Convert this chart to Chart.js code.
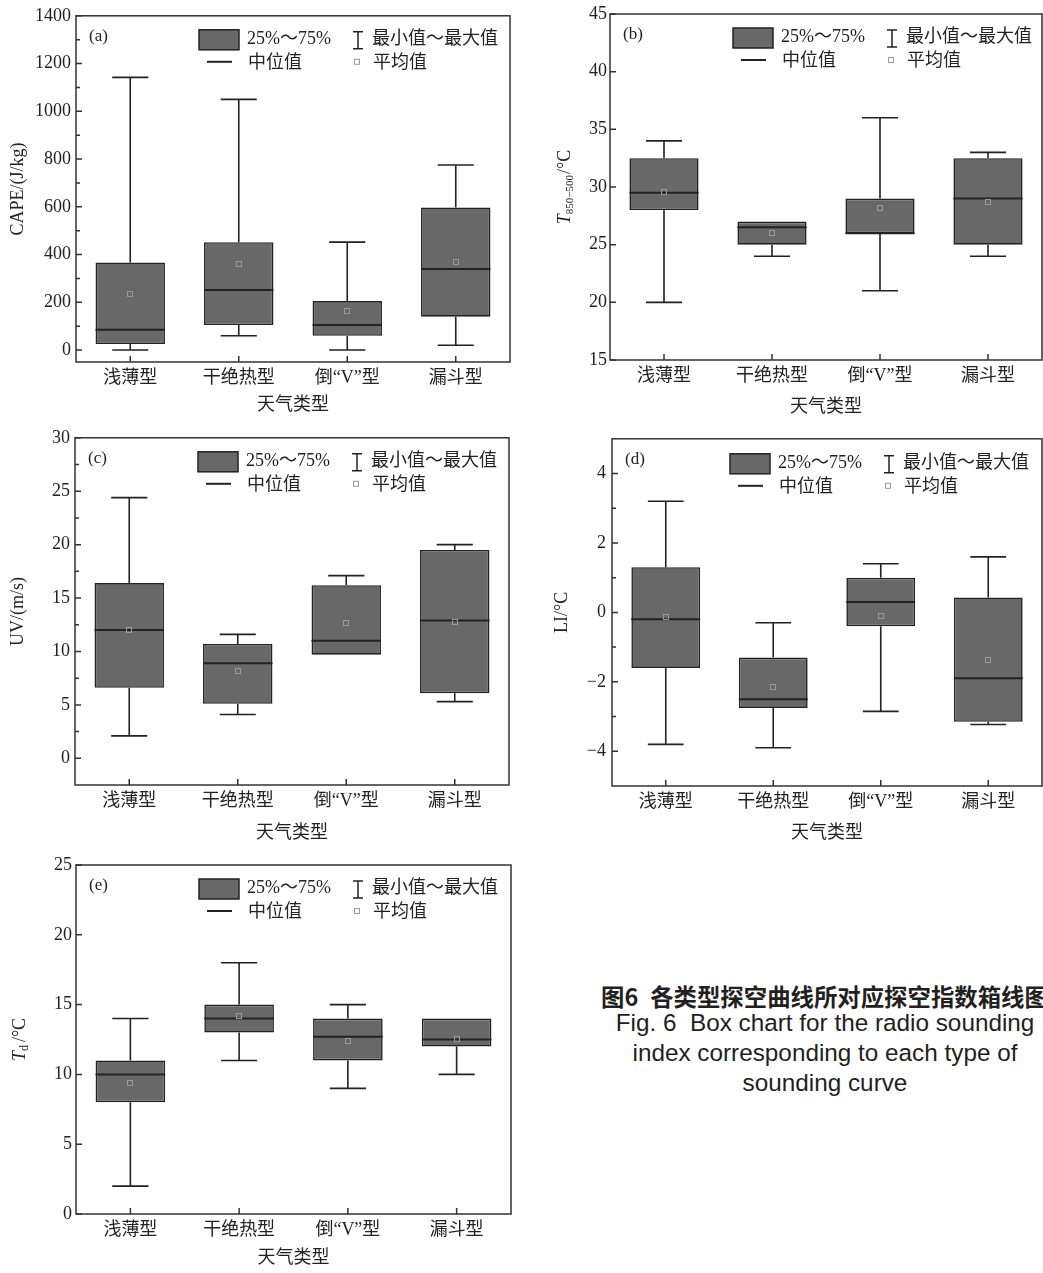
<!DOCTYPE html>
<html>
<head>
<meta charset="utf-8">
<script src="https://cdn.jsdelivr.net/npm/chart.js@4.4.1/dist/chart.umd.min.js"></script>
<style>
  body { margin: 0; background: #fff; width: 1043px; height: 1273px; position: relative; overflow: hidden; }
  canvas { position: absolute; }
  .cap-cn { position: absolute; left: 601px; top: 979px; font: bold 23.4px "Noto Sans CJK SC", sans-serif; color: #231f20; white-space: nowrap; }
  .cap-en { position: absolute; left: 575px; width: 500px; top: 1008px; text-align: center; font: 24.3px "Liberation Sans", Arial, sans-serif; line-height: 30px; color: #231f20; }
</style>
</head>
<body>
<canvas id="ca" width="520" height="420" style="left:0;top:0"></canvas>
<canvas id="cb" width="513" height="422" style="left:530px;top:0"></canvas>
<canvas id="cc" width="520" height="426" style="left:0;top:422px"></canvas>
<canvas id="cd" width="513" height="426" style="left:530px;top:422px"></canvas>
<canvas id="ce" width="520" height="423" style="left:0;top:850px"></canvas>
<div class="cap-cn">图6<span style="margin-left:12px">各类型探空曲线所对应探空指数箱线图</span></div>
<div class="cap-en">Fig. 6&nbsp; Box chart for the radio sounding<br>index corresponding to each type of<br>sounding curve</div>
<script>
// weather types
const categories = ['浅薄型', '干绝热型', '倒“V”型', '漏斗型'];

// (a) CAPE, J/kg
const capeMin  = [0, 60, 0, 20];
const capeQ1   = [25, 105, 60, 140];
const capeMed  = [85, 252, 105, 340];
const capeQ3   = [367, 452, 205, 597];
const capeMax  = [1142, 1050, 452, 775];
const capeMean = [235, 362, 165, 370];
const capeTicks = [0, 200, 400, 600, 800, 1000, 1200, 1400];

// (b) T850-500
const tMin  = [20, 24, 21, 24];
const tQ1   = [28, 25, 26, 25];
const tMed  = [29.5, 26.5, 26, 29];
const tQ3   = [32.5, 27, 29, 32.5];
const tMax  = [34, 27, 36, 33];
const tMean = [29.6, 26, 28.2, 28.7];
const tTicks = [15, 20, 25, 30, 35, 40, 45];

// (c) UV, m/s
const uvMin  = [2.1, 4.1, 9.7, 5.3];
const uvQ1   = [6.6, 5.1, 9.7, 6.1];
const uvMed  = [12, 8.9, 11, 12.9];
const uvQ3   = [16.4, 10.7, 16.2, 19.5];
const uvMax  = [24.4, 11.6, 17.1, 20];
const uvMean = [12, 8.2, 12.7, 12.75];
const uvTicks = [0, 5, 10, 15, 20, 25, 30];

// (d) LI
const liMin  = [-3.8, -3.9, -2.85, -3.23];
const liQ1   = [-1.6, -2.75, -0.4, -3.15];
const liMed  = [-0.2, -2.5, 0.3, -1.9];
const liQ3   = [1.3, -1.3, 1, 0.43];
const liMax  = [3.2, -0.3, 1.4, 1.6];
const liMean = [-0.14, -2.14, -0.11, -1.36];
const liTicks = [-4, -2, 0, 2, 4];

// (e) Td
const tdMin  = [2, 11, 9, 10];
const tdQ1   = [8, 13, 11, 12];
const tdMed  = [10, 14, 12.7, 12.5];
const tdQ3   = [11, 15, 14, 14];
const tdMax  = [14, 18, 15, 14];
const tdMean = [9.35, 14.2, 12.4, 12.52];
const tdTicks = [0, 5, 10, 15, 20, 25];

const SERIF = '"Liberation Serif", "Noto Sans CJK SC", serif';
const INK = '#222';
const BOX = '#686868';

function richTitle(ctx, cx, cy, parts) {
  ctx.save();
  ctx.translate(cx, cy);
  ctx.rotate(-Math.PI / 2);
  ctx.fillStyle = INK;
  ctx.textBaseline = 'middle';
  ctx.textAlign = 'left';
  let total = 0;
  parts.forEach(p => { ctx.font = p.font; p.w = ctx.measureText(p.text).width; total += p.w + (p.gap || 0); });
  let x = -total / 2;
  parts.forEach(p => {
    ctx.font = p.font;
    ctx.fillText(p.text, x, p.dy || 0);
    x += p.w + (p.gap || 0);
  });
  ctx.restore();
}

function makePanel(p) {
  const extras = {
    id: 'boxExtras',
    afterDatasetsDraw(chart) {
      const ctx = chart.ctx, y = chart.scales.y;
      const bars = chart.getDatasetMeta(0).data;
      ctx.save();
      ctx.strokeStyle = INK;
      bars.forEach((b, i) => {
        const x = b.x, half = b.width / 2, cap = b.width * 0.26;
        const pMax = y.getPixelForValue(p.hi[i]), pMin = y.getPixelForValue(p.lo[i]);
        const pQ3 = y.getPixelForValue(p.q3[i]), pQ1 = y.getPixelForValue(p.q1[i]);
        ctx.strokeStyle = INK;
        ctx.lineWidth = 1.6;
        ctx.beginPath();
        if (p.hi[i] > p.q3[i]) {
          ctx.moveTo(x, pQ3); ctx.lineTo(x, pMax);
          ctx.moveTo(x - cap, pMax); ctx.lineTo(x + cap, pMax);
        }
        if (p.lo[i] < p.q1[i]) {
          ctx.moveTo(x, pQ1); ctx.lineTo(x, pMin);
          ctx.moveTo(x - cap, pMin); ctx.lineTo(x + cap, pMin);
        }
        ctx.stroke();
        const pMed = y.getPixelForValue(p.med[i]);
        ctx.lineWidth = 2;
        ctx.beginPath();
        ctx.moveTo(x - half, pMed); ctx.lineTo(x + half, pMed);
        ctx.stroke();
        const pMean = y.getPixelForValue(p.mean[i]);
        ctx.lineWidth = 1;
        ctx.strokeStyle = '#9a9a9a';
        ctx.strokeRect(Math.round(x) - 2.5, Math.round(pMean) - 2.5, 5, 5);
      });
      ctx.restore();
    },
    afterDraw(chart) {
      const ctx = chart.ctx, a = chart.chartArea;
      const xs = chart.scales.x, ys = chart.scales.y;
      ctx.save();
      ctx.strokeStyle = '#333';
      ctx.lineWidth = 1.5;
      ctx.strokeRect(a.left, a.top, a.right - a.left, a.bottom - a.top);
      // inward ticks
      ctx.beginPath();
      ys.ticks.forEach(t => {
        const py = ys.getPixelForValue(t.value);
        ctx.moveTo(a.left, py); ctx.lineTo(a.left + 6, py);
      });
      if (p.minor) {
        for (let v = p.ticks[0] + p.minor; v < p.ticks[p.ticks.length - 1]; v += p.minor * 2) {
          const py = ys.getPixelForValue(v);
          ctx.moveTo(a.left, py); ctx.lineTo(a.left + 4, py);
        }
      }
      categories.forEach((c, i) => {
        const px = xs.getPixelForTick(i);
        ctx.moveTo(px, a.bottom); ctx.lineTo(px, a.bottom - 6);
      });
      ctx.stroke();

      // panel tag
      ctx.fillStyle = INK;
      ctx.textBaseline = 'middle';
      ctx.textAlign = 'left';
      ctx.font = '17px ' + SERIF;
      ctx.fillText(p.tag, a.left + 13, a.top + 21);

      // legend
      const L = a.left + (p.legDx || 0), T = a.top + (p.legDy || 0);
      ctx.fillStyle = BOX;
      ctx.fillRect(L + 123, T + 14, 40, 20);
      ctx.strokeStyle = INK;
      ctx.lineWidth = 1.5;
      ctx.strokeRect(L + 123, T + 14, 40, 20);
      ctx.beginPath();
      ctx.moveTo(L + 282, T + 16); ctx.lineTo(L + 282, T + 33);
      ctx.moveTo(L + 277, T + 16); ctx.lineTo(L + 287, T + 16);
      ctx.moveTo(L + 277, T + 33); ctx.lineTo(L + 287, T + 33);
      ctx.stroke();
      ctx.lineWidth = 2;
      ctx.beginPath();
      ctx.moveTo(L + 131, T + 46); ctx.lineTo(L + 156, T + 46);
      ctx.stroke();
      ctx.lineWidth = 1;
      ctx.strokeStyle = '#9a9a9a';
      ctx.strokeRect(L + 278.5, T + 43.5, 5, 5);
      ctx.fillStyle = INK;
      ctx.font = '18px ' + SERIF;
      ctx.fillText('25%～75%', L + 171, T + 23);
      ctx.fillText('最小值～最大值', L + 296, T + 23);
      ctx.fillText('中位值', L + 172, T + 47);
      ctx.fillText('平均值', L + 297, T + 47);
      ctx.restore();

      if (p.rich) richTitle(ctx, p.richX, (a.top + a.bottom) / 2, p.rich);
    }
  };

  return new Chart(document.getElementById(p.id), {
    type: 'bar',
    data: {
      labels: categories,
      datasets: [{
        data: p.q1.map((v, i) => [v, p.q3[i]]),
        backgroundColor: BOX,
        borderColor: INK,
        borderWidth: 1.6,
        borderSkipped: false,
        barPercentage: 0.64,
        categoryPercentage: 1
      }]
    },
    options: {
      responsive: false,
      animation: false,
      devicePixelRatio: 1,
      layout: { padding: { top: p.padTop, right: p.padRight, left: 0, bottom: 0 } },
      plugins: { legend: { display: false }, tooltip: { enabled: false } },
      scales: {
        x: {
          offset: true,
          grid: { display: false, drawTicks: false },
          border: { display: false },
          ticks: { padding: 5, color: INK, font: { family: SERIF, size: 18 }, maxRotation: 0, autoSkip: false },
          title: { display: true, text: '天气类型', color: INK, font: { family: SERIF, size: 18 }, padding: { top: 0, bottom: 4 } },
          afterFit(s) { s.height = p.xh; }
        },
        y: {
          min: p.yMin,
          max: p.yMax,
          grid: { display: false, drawTicks: false },
          border: { display: false },
          afterBuildTicks(s) { s.ticks = p.ticks.map(v => ({ value: v })); },
          ticks: {
            padding: p.tickPad,
            color: INK,
            font: { family: SERIF, size: 18 },
            callback: v => String(v).replace('-', '−')
          },
          title: {
            display: !!p.ytitle,
            text: p.ytitle || '',
            color: INK,
            font: { family: SERIF, size: 18 },
            padding: { top: p.titlePad || 0, bottom: 0 }
          },
          afterFit(s) { s.width = p.yw; }
        }
      }
    },
    plugins: [extras]
  });
}

const italicT = { text: 'T', font: 'italic 18px "Liberation Serif"' };
const unitC = { text: '/°C', font: '18px "Liberation Serif"' };

makePanel({
  id: 'ca', tag: '(a)', yw: 76, xh: 58, padTop: 12, padRight: 10, tickPad: 5,
  yMin: -50, yMax: 1400, ticks: capeTicks, minor: 100,
  ytitle: 'CAPE/(J/kg)', titlePad: 7,
  lo: capeMin, q1: capeQ1, med: capeMed, q3: capeQ3, hi: capeMax, mean: capeMean
});
makePanel({
  id: 'cb', tag: '(b)', yw: 80, xh: 62, padTop: 14, padRight: 1, tickPad: 3,
  yMin: 15, yMax: 45, ticks: tTicks, minor: 0,
  rich: [italicT, { text: '850−500', font: '11px "Liberation Serif"', dy: 5, gap: 1 }, unitC], richX: 35,
  lo: tMin, q1: tQ1, med: tMed, q3: tQ3, hi: tMax, mean: tMean
});
makePanel({
  id: 'cc', tag: '(c)', yw: 75, xh: 63, padTop: 13, padRight: 11, tickPad: 5,
  yMin: -2.5, yMax: 30, ticks: uvTicks, minor: 2.5,
  ytitle: 'UV/(m/s)', titlePad: 7,
  lo: uvMin, q1: uvQ1, med: uvMed, q3: uvQ3, hi: uvMax, mean: uvMean
});
makePanel({
  id: 'cd', tag: '(d)', yw: 82, xh: 62, padTop: 15, padRight: 1, tickPad: 6,
  yMin: -5, yMax: 5, ticks: liTicks, minor: 1,
  ytitle: 'LI/°C', titlePad: 21, legDx: -5, legDy: 1,
  lo: liMin, q1: liQ1, med: liMed, q3: liQ3, hi: liMax, mean: liMean
});
makePanel({
  id: 'ce', tag: '(e)', yw: 76, xh: 59, padTop: 15, padRight: 9, tickPad: 4,
  yMin: 0, yMax: 25, ticks: tdTicks, minor: 0,
  rich: [italicT, { text: 'd', font: '12px "Liberation Serif"', dy: 5, gap: 3 }, unitC], richX: 20,
  lo: tdMin, q1: tdQ1, med: tdMed, q3: tdQ3, hi: tdMax, mean: tdMean
});
</script>
</body>
</html>
